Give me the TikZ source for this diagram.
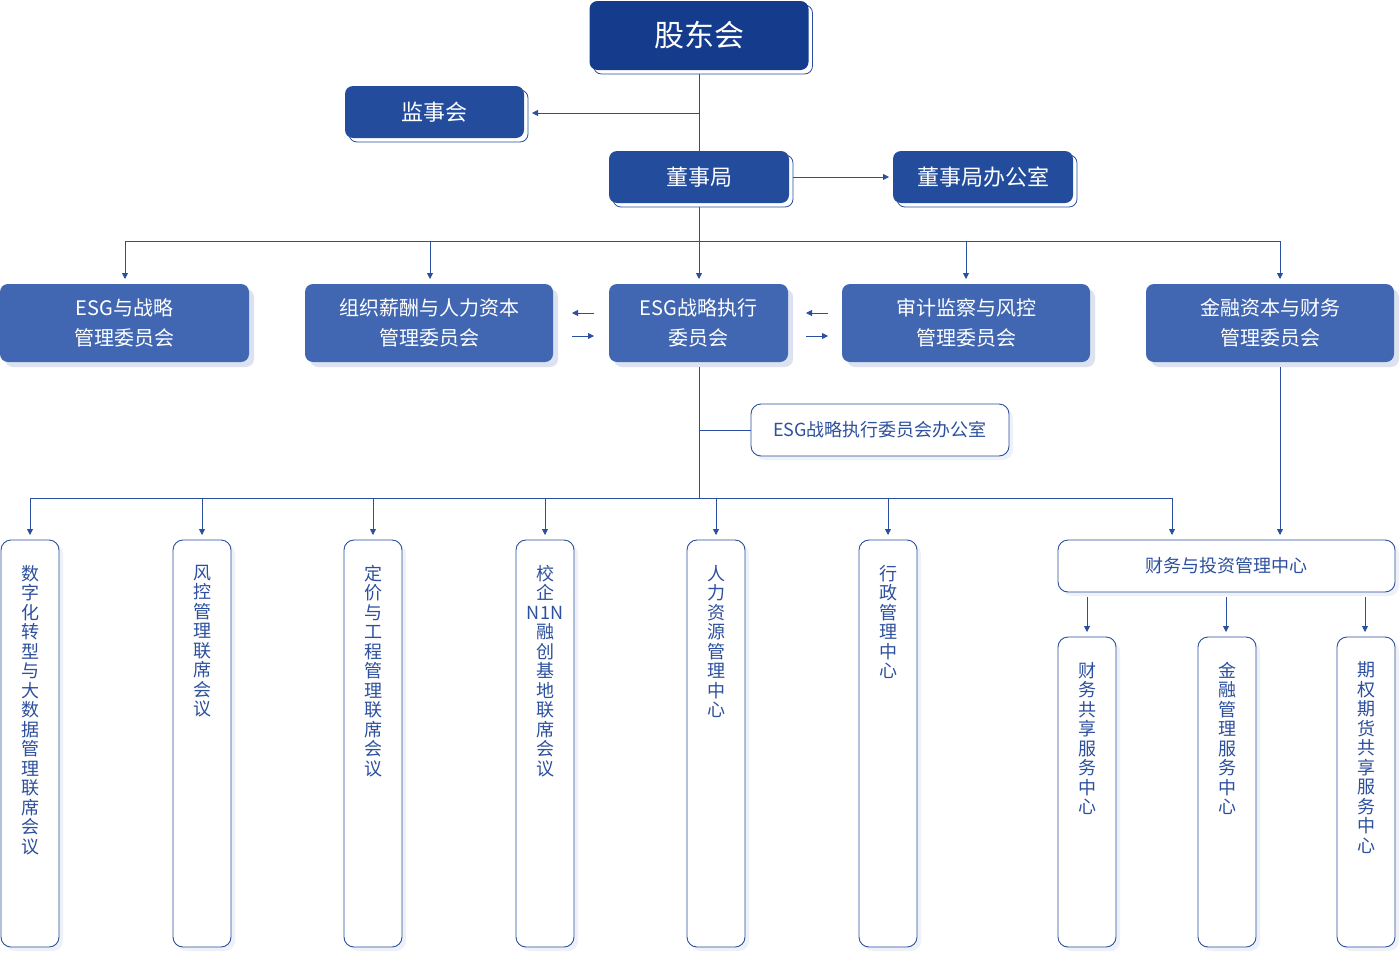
\documentclass[tikz,border=0pt]{standalone}
\usepackage{fontspec}
\setmainfont{Noto Sans CJK SC}
\usetikzlibrary{arrows.meta,shadows}
\definecolor{cTop}{HTML}{153C8C}
\definecolor{cDark}{HTML}{234C9C}
\definecolor{cMid}{HTML}{4267B2}
\definecolor{cLine}{HTML}{2A4F9E}
\definecolor{cText}{HTML}{2D509E}
\definecolor{cShadow}{HTML}{DCE2F0}
\definecolor{cShadowL}{HTML}{EEF1F7}
\begin{document}
\begin{tikzpicture}[x=1pt,y=-1pt,
  bw/.style={minimum width=#1},
  bh/.style={minimum height=#1},
  base/.style={inner sep=0pt, outer sep=0pt},
  darkbox/.style={base, rounded corners=8pt, fill=cDark, text=white, font=\fontsize{22}{26}\selectfont,
    copy shadow={shadow xshift=4pt, shadow yshift=-4pt, fill=white, draw=cLine, line width=0.8pt}},
  topbox/.style={darkbox, fill=cTop, font=\fontsize{30}{34}\selectfont},
  midbox/.style={base, rounded corners=8pt, fill=cMid, text=white, align=center,
    font=\fontsize{20}{30}\selectfont,
    drop shadow={shadow xshift=5pt, shadow yshift=-5pt, fill=cShadow, opacity=1}},
  whitebox/.style={base, rounded corners=10pt, fill=white, draw=cLine, line width=0.9pt, text=cText,
    font=\fontsize{18}{22}\selectfont,
    drop shadow={shadow xshift=4pt, shadow yshift=-4pt, fill=cShadowL, opacity=1}},
  vlab/.style={base, anchor=north, align=center, text=cText, font=\fontsize{18}{19.5}\selectfont},
  ln/.style={draw=cLine, line width=0.8pt},
  arr/.style={ln, -{Triangle[length=6pt,width=6pt]}},
]
\useasboundingbox (0,0) rectangle (1400,953);

% top levels
\node[topbox, bw=219, bh=69] (gdh) at (699,35.5) {股东会};
\node[darkbox, bw=179, bh=52] (jsh) at (434.5,112) {监事会};
\node[darkbox, bw=180, bh=52] (dsj) at (699,177) {董事局};
\node[darkbox, bw=180, bh=52] (dsjb) at (983,177) {董事局办公室};

% committees
\node[midbox, bw=249, bh=78] (c1) at (124.5,323) {ESG与战略\\管理委员会};
\node[midbox, bw=248, bh=78] (c2) at (429,323) {组织薪酬与人力资本\\管理委员会};
\node[midbox, bw=179, bh=78] (c3) at (698.5,323) {ESG战略执行\\委员会};
\node[midbox, bw=248, bh=78] (c4) at (966,323) {审计监察与风控\\管理委员会};
\node[midbox, bw=248, bh=78] (c5) at (1270,323) {金融资本与财务\\管理委员会};

% office
\node[whitebox, bw=258, bh=52] (ofc) at (880,430) {ESG战略执行委员会办公室};

% bottom vertical boxes
\node[whitebox, bw=58, bh=407] (v1) at (30,743.5) {};
\node[whitebox, bw=58, bh=407] (v2) at (202,743.5) {};
\node[whitebox, bw=58, bh=407] (v3) at (373,743.5) {};
\node[whitebox, bw=58, bh=407] (v4) at (545,743.5) {};
\node[whitebox, bw=58, bh=407] (v5) at (716,743.5) {};
\node[whitebox, bw=58, bh=407] (v6) at (888,743.5) {};
\node[vlab] (v1t) at ([yshift=-25pt]v1.north) {数\\字\\化\\转\\型\\与\\大\\数\\据\\管\\理\\联\\席\\会\\议};
\node[vlab] (v2t) at ([yshift=-25pt]v2.north) {风\\控\\管\\理\\联\\席\\会\\议};
\node[vlab] (v3t) at ([yshift=-25pt]v3.north) {定\\价\\与\\工\\程\\管\\理\\联\\席\\会\\议};
\node[vlab] (v4t) at ([yshift=-25pt]v4.north) {校\\企\\N1N\\融\\创\\基\\地\\联\\席\\会\\议};
\node[vlab] (v5t) at ([yshift=-25pt]v5.north) {人\\力\\资\\源\\管\\理\\中\\心};
\node[vlab] (v6t) at ([yshift=-25pt]v6.north) {行\\政\\管\\理\\中\\心};

% finance
\node[whitebox, bw=337, bh=52] (fin) at (1226.5,566) {财务与投资管理中心};
\node[whitebox, bw=58, bh=310] (s1) at (1087,792) {};
\node[whitebox, bw=58, bh=310] (s2) at (1227,792) {};
\node[whitebox, bw=58, bh=310] (s3) at (1366,792) {};
\node[vlab] (s1t) at ([yshift=-25pt]s1.north) {财\\务\\共\\享\\服\\务\\中\\心};
\node[vlab] (s2t) at ([yshift=-25pt]s2.north) {金\\融\\管\\理\\服\\务\\中\\心};
\node[vlab] (s3t) at ([yshift=-25pt]s3.north) {期\\权\\期\\货\\共\\享\\服\\务\\中\\心};

% connectors top
\coordinate (j1) at (699,113);
\draw[ln] ([yshift=-4pt]gdh.south) -- (dsj.north);
\draw[arr] (j1) -- ([xshift=8pt]jsh.east |- j1);
\draw[arr] ([xshift=4pt]dsj.east) -- ([xshift=-4pt]dsjb.west);

% bus 1
\coordinate (b0) at (699,241);
\coordinate (bL) at (125,241);
\coordinate (b2) at (430,241);
\coordinate (b4) at (966,241);
\coordinate (bR) at (1280,241);
\draw[ln] ([yshift=-4pt]dsj.south) -- (b0);
\draw[ln] (bL) -- (bR);
\draw[arr, shorten >=5pt] (bL) -- (bL |- c1.north);
\draw[arr, shorten >=5pt] (b2) -- (b2 |- c2.north);
\draw[arr, shorten >=5pt] (b0) -- (b0 |- c3.north);
\draw[arr, shorten >=5pt] (b4) -- (b4 |- c4.north);
\draw[arr, shorten >=5pt] (bR) -- (bR |- c5.north);

% pairs of arrows
\coordinate (pa1) at (594,313); \coordinate (pa2) at (572,313);
\coordinate (pb1) at (572,336); \coordinate (pb2) at (594,336);
\draw[arr] (pa1) -- (pa2);
\draw[arr] (pb1) -- (pb2);
\coordinate (qa1) at (828,313); \coordinate (qa2) at (806,313);
\coordinate (qb1) at (806,336); \coordinate (qb2) at (828,336);
\draw[arr] (qa1) -- (qa2);
\draw[arr] (qb1) -- (qb2);

% from ESG exec down
\coordinate (d0) at (699,498);
\coordinate (dL) at (30,498);
\coordinate (dR) at (1172,498);
\coordinate (d2) at (202,498);
\coordinate (d3) at (373,498);
\coordinate (d4) at (545,498);
\coordinate (d5) at (716,498);
\coordinate (d6) at (888,498);
\coordinate (oj) at (699,430);
\coordinate (e0) at (699,367);
\draw[ln] (e0) -- (d0);
\draw[ln] (oj) -- (ofc.west);
\draw[ln] (dL) -- (dR);
\draw[arr, shorten >=5pt] (dL) -- (dL |- v1.north);
\draw[arr, shorten >=5pt] (d2) -- (d2 |- v2.north);
\draw[arr, shorten >=5pt] (d3) -- (d3 |- v3.north);
\draw[arr, shorten >=5pt] (d4) -- (d4 |- v4.north);
\draw[arr, shorten >=5pt] (d5) -- (d5 |- v5.north);
\draw[arr, shorten >=5pt] (d6) -- (d6 |- v6.north);
\draw[arr, shorten >=5pt] (dR) -- (dR |- fin.north);

% finance column
\coordinate (f0) at (1280,367);
\coordinate (g1) at (1087,597);
\coordinate (g2) at (1226,597);
\coordinate (g3) at (1365,597);
\draw[arr, shorten >=5pt] (f0) -- (f0 |- fin.north);
\draw[arr, shorten >=5pt] (g1) -- (g1 |- s1.north);
\draw[arr, shorten >=5pt] (g2) -- (g2 |- s2.north);
\draw[arr, shorten >=5pt] (g3) -- (g3 |- s3.north);
\end{tikzpicture}
\end{document}
